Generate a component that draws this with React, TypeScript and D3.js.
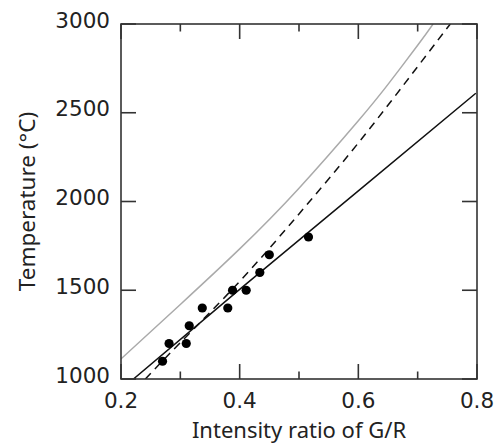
import React, { useEffect, useRef } from 'react';
import * as d3 from 'd3';

// measured points
const ratio = [0.27, 0.281, 0.31, 0.315, 0.337, 0.38, 0.388, 0.411, 0.434, 0.45, 0.516];
const temperature = [1100, 1200, 1200, 1300, 1400, 1400, 1500, 1500, 1600, 1700, 1800];

// calibration curves
const grayX = [0.2, 0.3, 0.4, 0.5, 0.6, 0.65, 0.7, 0.726];
const grayY = [1113, 1420, 1733, 2075, 2455, 2660, 2880, 3000];

const dashX = [0.241, 0.3, 0.4, 0.5, 0.6, 0.7, 0.755];
const dashY = [1000, 1205, 1550, 1930, 2330, 2760, 3000];

const solidX = [0.221, 0.4, 0.6, 0.798];
const solidY = [1000, 1505, 2060, 2610];

const xTicks = [0.2, 0.3, 0.4, 0.5, 0.6, 0.7, 0.8];
const xLabels = [0.2, 0.4, 0.6, 0.8];
const yTicks = [1000, 1500, 2000, 2500, 3000];

const App = () => {
    const svgRef = useRef<SVGSVGElement>(null);

    useEffect(() => {
        const svg = d3.select(svgRef.current);
        svg.selectAll("*").remove();

        const margin = { top: 24, right: 20, bottom: 66, left: 121 };
        const width = 497;
        const height = 445;
        const tickFont = "'DejaVu Sans', sans-serif";
        const titleFont = "'Noto Sans', sans-serif";

        const x = d3.scaleLinear().domain([0.2, 0.8]).range([margin.left, width - margin.right]);
        const y = d3.scaleLinear().domain([1000, 3000]).range([height - margin.bottom, margin.top]);

        const plot = svg.append("g");
        plot.append("clipPath").attr("id", "clip")
            .append("rect")
            .attr("x", x(0.2)).attr("y", y(3000))
            .attr("width", x(0.8) - x(0.2)).attr("height", y(1000) - y(3000));

        const line = d3.line<[number, number]>()
            .x(d => x(d[0]))
            .y(d => y(d[1]))
            .curve(d3.curveNatural);

        const curves = [
            { xs: grayX, ys: grayY, color: "#aaaaaa", dash: null },
            { xs: dashX, ys: dashY, color: "#111", dash: "8,6" },
            { xs: solidX, ys: solidY, color: "#111", dash: null },
        ];
        curves.forEach(c => {
            plot.append("path")
                .attr("d", line(c.xs.map((v, i) => [v, c.ys[i]] as [number, number])))
                .attr("fill", "none")
                .attr("stroke", c.color)
                .attr("stroke-width", 1.5)
                .attr("stroke-dasharray", c.dash)
                .attr("clip-path", "url(#clip)");
        });

        plot.selectAll("circle")
            .data(ratio)
            .enter()
            .append("circle")
            .attr("cx", d => x(d))
            .attr("cy", (d, i) => y(temperature[i]))
            .attr("r", 4.6)
            .attr("fill", "#000");

        // frame
        svg.append("rect")
            .attr("x", x(0.2)).attr("y", y(3000))
            .attr("width", x(0.8) - x(0.2)).attr("height", y(1000) - y(3000))
            .attr("fill", "none")
            .attr("stroke", "#333")
            .attr("stroke-width", 1.6);

        // X-axis ticks (inward, bottom and top)
        const major = (v: number) => xLabels.some(l => Math.abs(l - v) < 1e-9);
        xTicks.forEach(v => {
            const len = major(v) ? 15 : 7.5;
            svg.append("line")
                .attr("x1", x(v)).attr("x2", x(v))
                .attr("y1", y(1000)).attr("y2", y(1000) - len)
                .attr("stroke", "#333").attr("stroke-width", 1.6);
            svg.append("line")
                .attr("x1", x(v)).attr("x2", x(v))
                .attr("y1", y(3000)).attr("y2", y(3000) + len)
                .attr("stroke", "#333").attr("stroke-width", 1.6);
        });
        xLabels.forEach(v => {
            svg.append("text")
                .attr("x", x(v)).attr("y", y(1000) + 29)
                .attr("text-anchor", "middle")
                .attr("font-family", tickFont).attr("font-size", 21.5)
                .attr("fill", "#222")
                .text(d3.format(".1f")(v));
        });

        // Y-axis ticks (inward, left and right)
        yTicks.forEach(v => {
            svg.append("line")
                .attr("x1", x(0.2)).attr("x2", x(0.2) + 15)
                .attr("y1", y(v)).attr("y2", y(v))
                .attr("stroke", "#333").attr("stroke-width", 1.6);
            svg.append("line")
                .attr("x1", x(0.8)).attr("x2", x(0.8) - 15)
                .attr("y1", y(v)).attr("y2", y(v))
                .attr("stroke", "#333").attr("stroke-width", 1.6);
            svg.append("text")
                .attr("x", x(0.2) - 11).attr("y", y(v) + 3.5)
                .attr("text-anchor", "end")
                .attr("font-family", tickFont).attr("font-size", 21.5)
                .attr("fill", "#222")
                .text(v);
        });

        // axis titles
        svg.append("text")
            .attr("x", (x(0.2) + x(0.8)) / 2).attr("y", 438)
            .attr("text-anchor", "middle")
            .attr("font-family", titleFont).attr("font-size", 22)
            .attr("fill", "#222")
            .text("Intensity ratio of G/R");
        svg.append("text")
            .attr("transform", `translate(35,${(y(1000) + y(3000)) / 2}) rotate(-90)`)
            .attr("text-anchor", "middle")
            .attr("font-family", titleFont).attr("font-size", 22.5)
            .attr("fill", "#222")
            .text("Temperature (°C)");
    }, []);

    return (
        <svg ref={svgRef} width={497} height={445}
            style={{ position: 'absolute', left: 0, top: 0, background: '#fff' }}></svg>
    );
};

export default App;
